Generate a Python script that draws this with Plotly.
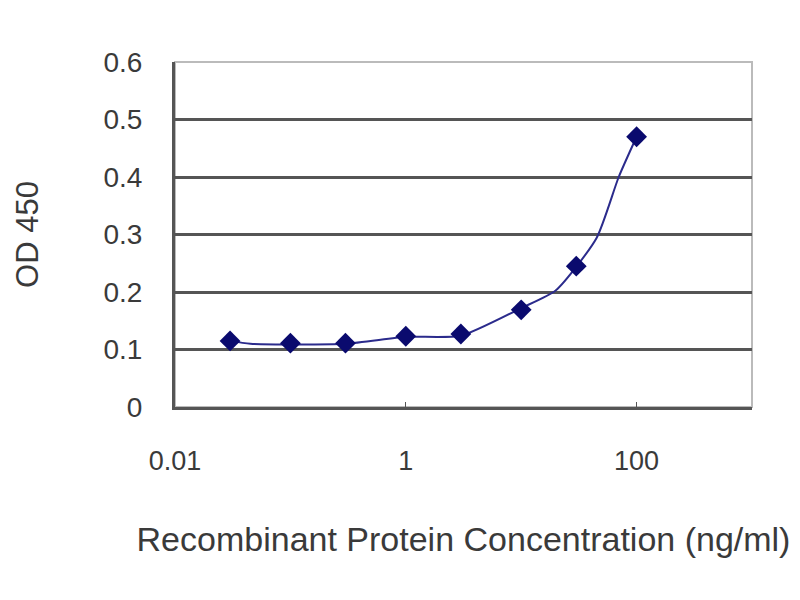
import plotly.graph_objects as go

# Measured data
conc = [0.03, 0.1, 0.3, 1, 3, 10, 30, 100]
od450 = [0.115, 0.111, 0.111, 0.123, 0.127, 0.169, 0.245, 0.47]

# Fitted curve vertices
fit_x = [0.03, 0.045, 0.3, 1, 3, 10, 20, 45, 70, 100]
fit_y = [0.115, 0.110, 0.110, 0.122, 0.124, 0.172, 0.203, 0.294, 0.40, 0.47]

x_ticks = [0.01, 1, 100]
x_tick_labels = ["0.01", "1", "100"]
y_ticks = [0, 0.1, 0.2, 0.3, 0.4, 0.5, 0.6]
y_tick_labels = ["0", "0.1", "0.2", "0.3", "0.4", "0.5", "0.6"]

FONT = "Liberation Sans, Arial, sans-serif"
NAVY = "#0a0a6e"
TXT = "#3a3a3a"

fig = go.Figure()
fig.add_trace(go.Scatter(x=fit_x, y=fit_y, mode="lines",
                         line=dict(color="#2b2b8c", width=2, shape="spline", smoothing=0.6),
                         hoverinfo="skip", showlegend=False))
fig.add_trace(go.Scatter(x=conc, y=od450, mode="markers",
                         marker=dict(symbol="diamond", size=16, color=NAVY),
                         showlegend=False))

fig.update_layout(
    width=800, height=600,
    margin=dict(l=167, r=56, t=54, b=201),
    paper_bgcolor="white", plot_bgcolor="white",
    font=dict(family=FONT, color=TXT),
    xaxis=dict(type="log", range=[-2, 3], tickvals=x_ticks, ticktext=x_tick_labels,
               tickfont=dict(size=27, color=TXT), ticks="inside", ticklen=5,
               tickcolor="#555555", showgrid=False, zeroline=False,
               showline=True, linecolor="#555555", linewidth=3, mirror=False,
               ticklabelstandoff=28,
               title=dict(text="Recombinant Protein Concentration (ng/ml)",
                          font=dict(size=34, color=TXT), standoff=52)),
    yaxis=dict(range=[0, 0.6], tickvals=y_ticks, ticktext=y_tick_labels,
               tickfont=dict(size=28, color=TXT), ticks="", showgrid=True,
               gridcolor="#555555", gridwidth=2.5, zeroline=False,
               showline=True, linecolor="#555555", linewidth=3,
               ticklabelstandoff=24,
               title=dict(text="OD 450", font=dict(size=31, color=TXT), standoff=56)),
    shapes=[dict(type="rect", xref="paper", yref="paper", x0=0, y0=0, x1=1, y1=1,
                 line=dict(color="#bbbbbb", width=2), layer="below")],
)

fig.write_html("out.html")
